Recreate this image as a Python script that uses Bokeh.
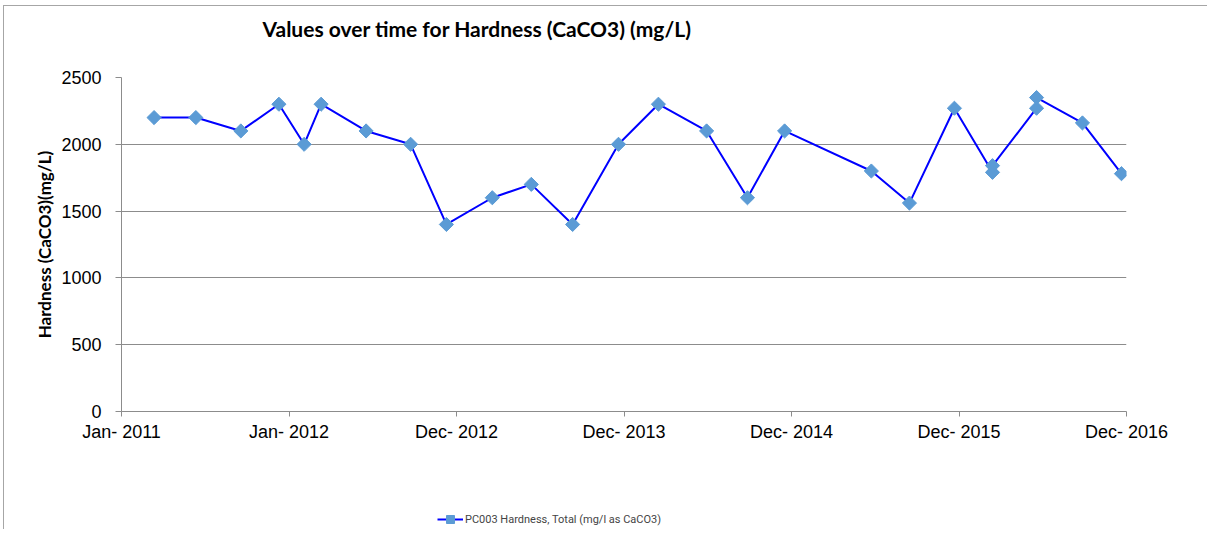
import math
import pandas as pd
from bokeh.plotting import figure
from bokeh.layouts import column
from bokeh.models import (Range1d, FixedTicker, DatetimeTickFormatter, Legend, LegendItem,
                          ColumnDataSource, Label)
from bokeh.embed import file_html
from bokeh.resources import INLINE

# ---- data ----
dates = ["2011-03-13", "2011-06-12", "2011-09-18", "2011-12-10", "2012-02-03", "2012-03-11",
         "2012-06-17", "2012-09-22", "2012-12-09", "2013-03-19", "2013-06-12", "2013-09-10",
         "2013-12-19", "2014-03-16", "2014-06-29", "2014-09-26", "2014-12-16", "2015-06-23",
         "2015-09-14", "2015-12-21", "2016-03-13", "2016-03-13", "2016-06-17", "2016-06-17",
         "2016-09-25", "2016-12-19"]
values = [2200, 2200, 2100, 2300, 2000, 2300, 2100, 2000, 1400, 1600, 1700, 1400,
          2000, 2300, 2100, 1600, 2100, 1800, 1560, 2270, 1790, 1840, 2270, 2350,
          2160, 1780]
series_name = "PC003 Hardness, Total (mg/l as CaCO3)"
title_text = "Values over time for Hardness (CaCO3) (mg/L)"
y_label = "Hardness (CaCO3)(mg/L)"
x_start = "2011-01-01"
x_step_days = 365
x_tick_count = 7
y_ticks = [0, 500, 1000, 1500, 2000, 2500]

x = pd.to_datetime(dates)
src = ColumnDataSource(dict(x=x, y=values))
t0 = pd.Timestamp(x_start)
tick_dates = [t0 + pd.Timedelta(days=x_step_days * k) for k in range(x_tick_count)]
tick_ms = [t.value / 1e6 for t in tick_dates]

LINE_C = "#0000ff"
MARK_C = "#5b9bd5"
GRID_C = "#8c8c8c"
BORDER_C = "#a6a6a6"

W = 1203


def strip(height):
    f = figure(width=W, height=height, output_backend="svg", toolbar_location=None,
               min_border=0, x_range=Range1d(0, 1), y_range=Range1d(0, 1))
    f.xaxis.visible = False
    f.yaxis.visible = False
    f.xgrid.visible = False
    f.ygrid.visible = False
    f.outline_line_color = None
    f.border_fill_color = "white"
    return f


# ---- title strip ----
T = strip(59)
T.add_layout(Label(x=141, y=37, x_units="screen", y_units="screen", text=title_text,
                   text_align="left", text_baseline="middle", text_font="Lato",
                   text_font_style="bold", text_font_size="21px", text_color="black"))

# ---- main chart ----
p = figure(width=W, height=425, x_axis_type="datetime", output_backend="svg",
           toolbar_location=None, min_border_left=117, min_border_right=81,
           min_border_top=12, min_border_bottom=79)
p.x_range = Range1d(tick_ms[0], tick_ms[-1])
p.y_range = Range1d(0, 2500)
p.outline_line_color = None
p.background_fill_color = "white"
p.border_fill_color = "white"

p.xgrid.grid_line_color = None
p.ygrid.grid_line_color = GRID_C
p.ygrid.ticker = FixedTicker(ticks=y_ticks)

ax = p.xaxis[0]
ax.ticker = FixedTicker(ticks=tick_ms)
ax.formatter = DatetimeTickFormatter(years="%b- %Y", months="%b- %Y", days="%b- %Y",
                                     hours="%b- %Y", minutes="%b- %Y")
ax.axis_line_color = GRID_C
ax.major_tick_line_color = GRID_C
ax.major_tick_out = 5
ax.major_tick_in = 0
ax.minor_tick_line_color = None
ax.major_label_text_font = "Liberation Sans"
ax.major_label_text_font_size = "18px"
ax.major_label_text_color = "black"
ax.major_label_standoff = 5

ay = p.yaxis[0]
ay.ticker = FixedTicker(ticks=y_ticks)
ay.axis_line_color = GRID_C
ay.major_tick_line_color = GRID_C
ay.major_tick_out = 6
ay.major_tick_in = 0
ay.minor_tick_line_color = None
ay.major_label_text_font = "Liberation Sans"
ay.major_label_text_font_size = "18px"
ay.major_label_text_color = "black"
ay.major_label_standoff = 14
ay.axis_label = y_label
ay.axis_label_text_font = "Lato"
ay.axis_label_text_font_style = "bold"
ay.axis_label_text_font_size = "17px"
ay.axis_label_text_color = "black"
ay.axis_label_standoff = 3

p.line("x", "y", source=src, line_color=LINE_C, line_width=2)
p.scatter("x", "y", source=src, marker="square", angle=math.pi / 4, size=10,
          fill_color=MARK_C, line_color=MARK_C)

# ---- legend strip (its frame aligns with the main frame) ----
L = strip(39)
leg_line = L.line("x", "y", source=src, line_color=LINE_C, line_width=2)
leg_pts = L.scatter("x", "y", source=src, marker="square", angle=math.pi / 4, size=6,
                    fill_color=MARK_C, line_color=MARK_C)
legend = Legend(items=[LegendItem(label=series_name, renderers=[leg_line, leg_pts])],
                location=(316, 0), orientation="horizontal",
                border_line_color=None, background_fill_alpha=0,
                padding=0, margin=0, spacing=0,
                label_text_font="Roboto", label_text_font_size="11px",
                label_standoff=2, glyph_width=26, glyph_height=20, label_height=20)
L.add_layout(legend, "center")

layout = column(T, p, L, spacing=0, margin=(5, 0, 0, 3),
                styles={"border-left": f"1px solid {BORDER_C}",
                        "border-top": f"1px solid {BORDER_C}"})
open("out.html", "w").write(file_html(layout, INLINE))
